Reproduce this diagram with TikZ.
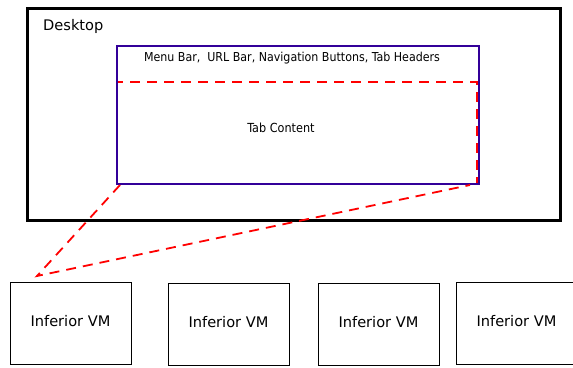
\documentclass[tikz,border=0pt]{standalone}
\usepackage{fontspec}
\setmainfont{DejaVu Sans}
\newfontfamily\condensed{DejaVu Sans Condensed}
\definecolor{frameblue}{HTML}{330099}
\tikzset{
  box/.style={draw, anchor=north west, inner sep=0pt},
  desktopbox/.style={box, line width=3pt},
  browserbox/.style={box, draw=frameblue, line width=1.5pt},
  contentbox/.style={box, draw=red, line width=1.8pt, dash pattern=on 10pt off 7pt},
  vmbox/.style={box, line width=0.9pt, minimum width=121pt, minimum height=82pt},
  vmlabel/.style={font=\fontsize{14.6}{16}\selectfont},
  link/.style={draw=red, line width=1.8pt, dash pattern=on 10pt off 7pt},
}
\begin{document}
\begin{tikzpicture}[x=1pt,y=-1pt]
  \useasboundingbox[fill=white] (0,0) rectangle (573,367);

  % desktop frame
  \node[desktopbox, minimum width=533pt, minimum height=212pt] (desk) at (26,7) {};
  \node[anchor=base west, inner sep=0pt, font=\fontsize{14.6}{16}\selectfont] (desklabel) at (43,30) {Desktop};

  % browser window and its tab content area
  \node[contentbox, minimum width=360pt, minimum height=102pt] (tab) at (116,81) {};
  \node[browserbox, minimum width=362pt, minimum height=138pt] (browser) at (116,45) {};
  \node[inner sep=0pt, font=\condensed\fontsize{12.3}{14}\selectfont] (menu) at (292,58) {Menu Bar,\ \ URL Bar, Navigation Buttons, Tab Headers};
  \node[inner sep=0pt, font=\condensed\fontsize{12.5}{14}\selectfont] (tablabel) at (281,128) {Tab Content};

  % inferior VMs
  \node[vmbox] (vm1) at (10,282) {};
  \node[vmbox] (vm2) at (168,283) {};
  \node[vmbox] (vm3) at (318,283) {};
  \node[vmbox] (vm4) at (456,282) {};
  \node[vmlabel] (vm1t) at (70.5,321) {Inferior VM};
  \node[vmlabel] (vm2t) at (228.5,322) {Inferior VM};
  \node[vmlabel] (vm3t) at (378.5,322) {Inferior VM};
  \node[vmlabel] (vm4t) at (516.5,321) {Inferior VM};

  % projection of the tab onto the first VM
  \coordinate (join) at (37,276);
  \coordinate (tl) at (120,185);
  \coordinate (tr) at (470,185);
  \draw[link] (tl) -- (join) -- (tr);
\end{tikzpicture}
\end{document}
